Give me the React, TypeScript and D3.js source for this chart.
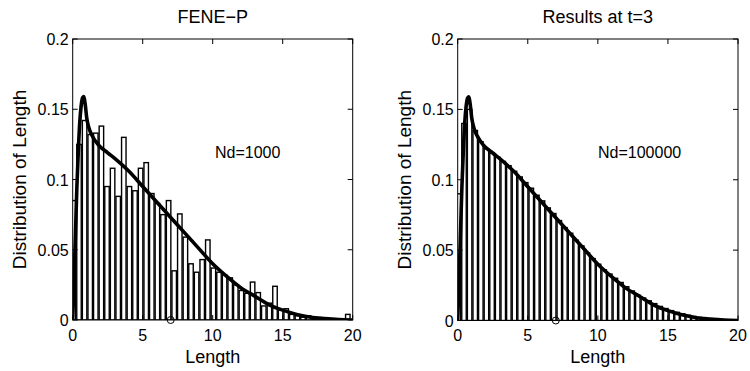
import React from "react";
import * as d3 from "d3";

// Histogram bin centres (Length)
const binCenters = [
  0.05, 0.45, 0.85, 1.25, 1.65, 2.05, 2.45, 2.85, 3.25, 3.65,
  4.05, 4.45, 4.85, 5.25, 5.65, 6.05, 6.45, 6.85, 7.25, 7.65,
  8.05, 8.45, 8.85, 9.25, 9.65, 10.05, 10.45, 10.85, 11.25, 11.65,
  12.05, 12.45, 12.85, 13.25, 13.65, 14.05, 14.45, 14.85, 15.25, 15.65,
  16.05, 16.45, 16.85, 17.25, 17.65, 18.05, 18.45, 18.85, 19.25, 19.65,
];

// Left panel: Nd=1000 histogram heights
const histNd1000 = [
  0.085, 0.125, 0.142, 0.132, 0.133, 0.138, 0.095, 0.108, 0.088, 0.130,
  0.095, 0.092, 0.108, 0.112, 0.090, 0.083, 0.075, 0.085, 0.035, 0.0755,
  0.059, 0.040, 0.034, 0.043, 0.057, 0.037, 0.034, 0.032, 0.030, 0.025,
  0.021, 0.019, 0.027, 0.0195, 0.010, 0.012, 0.024, 0.007, 0.008, 0.004,
  0.003, 0.002, 0.003, 0.001, 0.0015, 0.001, 0.0005, 0.0005, 0.0, 0.004,
];

// Right panel: Nd=100000 histogram heights
const histNd100000 = [
  0.09, 0.14, 0.150, 0.135, 0.127, 0.122, 0.119, 0.116, 0.113, 0.110,
  0.106, 0.102, 0.098, 0.094, 0.089, 0.085, 0.080, 0.076, 0.071, 0.066,
  0.062, 0.057, 0.053, 0.048, 0.044, 0.040, 0.036, 0.033, 0.030, 0.027,
  0.024, 0.021, 0.018, 0.016, 0.014, 0.012, 0.010, 0.0085, 0.007, 0.0058,
  0.0047, 0.0037, 0.0029, 0.0022, 0.0016, 0.0012, 0.0008, 0.0005, 0.0003, 0.0002,
];

// Theoretical distribution curve
const curveX = [
  0, 0.1, 0.2, 0.3, 0.4, 0.5, 0.6, 0.7, 0.78, 0.9, 1.0, 1.15, 1.4, 1.8,
  2.5, 3, 4, 5, 6, 7, 8, 9, 10, 11, 12, 13, 14, 15, 16, 17, 18, 19, 20,
];
const curveY = [
  0, 0.03, 0.062, 0.095, 0.12, 0.14, 0.152, 0.158, 0.159, 0.153, 0.144, 0.137, 0.131, 0.125,
  0.119, 0.115, 0.106, 0.095, 0.084, 0.073, 0.062, 0.051, 0.040, 0.031, 0.023, 0.017,
  0.011, 0.007, 0.004, 0.002, 0.001, 0.0003, 0,
];

const xTicks = [0, 5, 10, 15, 20];
const yTicks = [0, 0.05, 0.1, 0.15, 0.2];
const yTickLabels = ["0", "0.05", "0.1", "0.15", "0.2"];

const markerX = 7;
const markerY = 0;

const FONT = "'Liberation Sans', Arial, Helvetica, sans-serif";

type PanelProps = {
  left: number;
  right: number;
  top: number;
  bottom: number;
  title: string;
  note: string;
  noteX: number;
  hist: number[];
  yLabelX: number;
};

function Panel({ left, right, top, bottom, title, note, noteX, hist, yLabelX }: PanelProps) {
  const x = d3.scaleLinear().domain([0, 20]).range([left, right]);
  const y = d3.scaleLinear().domain([0, 0.2]).range([bottom, top]);
  const binW = 0.4 * 0.8;
  const tick = 5;
  const line = d3
    .line<number>()
    .x((_, i) => x(curveX[i]))
    .y((d) => y(d))
    .curve(d3.curveMonotoneX);
  const cx = (left + right) / 2;

  return (
    <g>
      <defs>
        <clipPath id={`clip-${left}`}>
          <rect x={left} y={top} width={right - left} height={bottom - top} />
        </clipPath>
      </defs>
      <g clipPath={`url(#clip-${left})`}>
        {hist.map((v, i) => {
          const x0 = x(binCenters[i] - binW / 2);
          const x1 = x(binCenters[i] + binW / 2);
          return (
            <rect
              key={i}
              x={x0}
              y={y(v)}
              width={x1 - x0}
              height={y(0) - y(v)}
              fill="#fff"
              stroke="#000"
              strokeWidth={1.4}
            />
          );
        })}
        <path d={line(curveY) || ""} fill="none" stroke="#000" strokeWidth={3.6} strokeLinejoin="round" />
      </g>
      <circle cx={x(markerX)} cy={y(markerY)} r={3.5} fill="none" stroke="#000" strokeWidth={1} />
      <rect x={left} y={top} width={right - left} height={bottom - top} fill="none" stroke="#000" strokeWidth={1} />
      {xTicks.map((t) => (
        <g key={`xt${t}`}>
          <line x1={x(t)} x2={x(t)} y1={bottom} y2={bottom - tick} stroke="#000" />
          <line x1={x(t)} x2={x(t)} y1={top} y2={top + tick} stroke="#000" />
          <text x={x(t)} y={341} textAnchor="middle" fontSize={16} fontFamily={FONT}>
            {t}
          </text>
        </g>
      ))}
      {yTicks.map((t, i) => (
        <g key={`yt${t}`}>
          <line x1={left} x2={left + tick} y1={y(t)} y2={y(t)} stroke="#000" />
          <line x1={right} x2={right - tick} y1={y(t)} y2={y(t)} stroke="#000" />
          <text x={left - 4} y={y(t) + 6} textAnchor="end" fontSize={16} fontFamily={FONT}>
            {yTickLabels[i]}
          </text>
        </g>
      ))}
      <text x={cx} y={23} textAnchor="middle" fontSize={18} fontFamily={FONT}>
        {title}
      </text>
      <text x={cx} y={363} textAnchor="middle" fontSize={18} fontFamily={FONT}>
        Length
      </text>
      <text
        transform={`translate(${yLabelX},${(top + bottom) / 2}) rotate(-90)`}
        textAnchor="middle"
        fontSize={19}
        fontFamily={FONT}
      >
        Distribution of Length
      </text>
      <text x={noteX} y={158} fontSize={16} fontFamily={FONT}>
        {note}
      </text>
    </g>
  );
}

export default function App() {
  return (
    <svg
      width={750}
      height={371}
      style={{ position: "absolute", left: 0, top: 0, background: "#fff" }}
    >
      <rect width={750} height={371} fill="#fff" />
      <Panel
        left={72.7}
        right={352.7}
        top={39}
        bottom={320}
        title="FENE−P"
        note="Nd=1000"
        noteX={215}
        hist={histNd1000}
        yLabelX={26}
      />
      <Panel
        left={457.7}
        right={738}
        top={39}
        bottom={320.5}
        title="Results at t=3"
        note="Nd=100000"
        noteX={598}
        hist={histNd100000}
        yLabelX={411}
      />
    </svg>
  );
}
